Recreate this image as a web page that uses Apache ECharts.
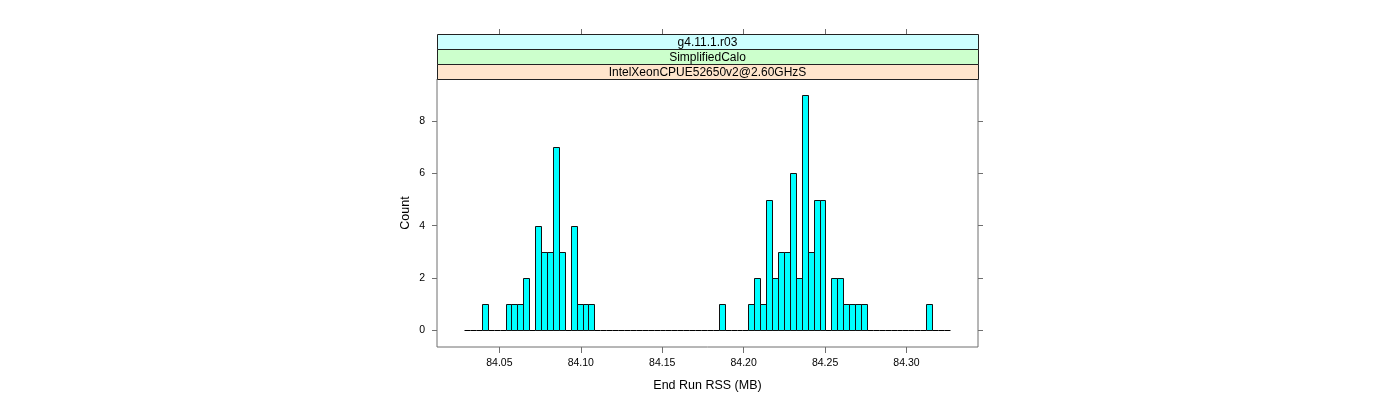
<!DOCTYPE html>
<html>
<head>
<meta charset="utf-8">
<script src="https://cdn.jsdelivr.net/npm/echarts@6/dist/echarts.min.js"></script>
<style>html,body{margin:0;padding:0;background:#fff;}#c{width:1400px;height:400px;}</style>
</head>
<body>
<div id="c"></div>
<script>
// Histogram bins (equal width) and counts
var binStart = 84.0283;
var binWidth = 0.003638;
var counts = [0,0,0,1,0,0,0,1,1,1,2,0,4,3,3,7,3,0,4,1,1,1,
  0,0,0,0,0,0,0,0,0,0,0,0,0,0,0,0,0,0,0,0,0,
  1,0,0,0,0,
  1,2,1,5,2,3,3,6,2,9,3,5,5,0,2,2,1,1,1,1,
  0,0,0,0,0,0,0,0,0,0,
  1,0,0,0];
var xTicks = [84.05, 84.10, 84.15, 84.20, 84.25, 84.30];
var yTicks = [0, 2, 4, 6, 8];
var strips = ['g4.11.1.r03', 'SimplifiedCalo', 'IntelXeonCPUE52650v2@2.60GHzS'];
var stripColors = ['#ccffff', '#ccffcc', '#ffe5cc'];
var xTitle = 'End Run RSS (MB)';
var yTitle = 'Count';

var bins = counts.map(function (c, i) {
  return [binStart + i * binWidth, binStart + (i + 1) * binWidth, c];
});

var G = {left: 437, right: 422, top: 79, bottom: 53};
var W = 1400 - G.left - G.right;
var stripH = 15;
var axisCol = '#6f6f6f';
var font = 'Liberation Sans, Arial, sans-serif';

var graphics = [];
strips.forEach(function (s, i) {
  var y = G.top - stripH * (strips.length - i);
  graphics.push({type: 'rect', shape: {x: G.left + 0.5, y: y + 0.5, width: W, height: stripH},
    style: {fill: stripColors[i], stroke: '#222', lineWidth: 1}, silent: true});
  graphics.push({type: 'text', x: G.left + W / 2, y: y + stripH / 2 + 1,
    style: {text: s, textAlign: 'center', textVerticalAlign: 'middle', font: '12px ' + font, fill: '#000'}, silent: true});
});

var chart = echarts.init(document.getElementById('c'), null, {renderer: 'canvas'});
chart.setOption({
  animation: false,
  backgroundColor: '#fff',
  grid: {left: G.left, right: G.right, top: G.top, bottom: G.bottom, show: true,
    borderColor: axisCol, borderWidth: 1, backgroundColor: 'transparent'},
  xAxis: [{
    type: 'value', min: 84.0117, max: 84.3439, position: 'bottom',
    splitLine: {show: false},
    axisLine: {show: false, onZero: false},
    axisTick: {show: true, length: 6, lineStyle: {color: axisCol}, customValues: xTicks},
    axisLabel: {show: true, margin: 11, color: '#000', fontSize: 10.5, fontFamily: font,
      customValues: xTicks, formatter: function (v) { return v.toFixed(2); }},
    name: xTitle, nameLocation: 'middle', nameGap: 32,
    nameTextStyle: {color: '#000', fontSize: 12.5, fontFamily: font}
  }, {
    type: 'value', min: 84.0117, max: 84.3439, position: 'top', offset: stripH * strips.length,
    splitLine: {show: false}, axisLine: {show: false, onZero: false},
    axisTick: {show: true, length: 5, lineStyle: {color: axisCol}, customValues: xTicks},
    axisLabel: {show: false}
  }],
  yAxis: [{
    type: 'value', min: -0.63, max: 9.6, position: 'left',
    splitLine: {show: false}, axisLine: {show: false, onZero: false},
    axisTick: {show: true, length: 5, lineStyle: {color: axisCol}, customValues: yTicks},
    axisLabel: {show: true, margin: 12, color: '#000', fontSize: 10.5, fontFamily: font, customValues: yTicks},
    name: yTitle, nameLocation: 'middle', nameGap: 25, nameRotate: 90,
    nameTextStyle: {color: '#000', fontSize: 12.5, fontFamily: font}
  }, {
    type: 'value', min: -0.63, max: 9.6, position: 'right',
    splitLine: {show: false}, axisLine: {show: false, onZero: false},
    axisTick: {show: true, length: 5, lineStyle: {color: axisCol}, customValues: yTicks},
    axisLabel: {show: false}
  }],
  series: [{
    type: 'custom',
    xAxisIndex: 0, yAxisIndex: 0,
    data: bins,
    renderItem: function (params, api) {
      var x0 = api.value(0), x1 = api.value(1), c = api.value(2);
      var p0 = api.coord([x0, c]);
      var p1 = api.coord([x1, 0]);
      var xa = Math.round(p0[0]) + 0.5, xb = Math.round(p1[0]) + 0.5;
      var yb = Math.round(p1[1]) + 0.5, yt = Math.round(p0[1]) + 0.5;
      if (c === 0) {
        return {type: 'line', shape: {x1: xa, y1: yb, x2: xb, y2: yb}, style: {stroke: '#000', lineWidth: 1}};
      }
      return {type: 'rect', shape: {x: xa, y: yt, width: xb - xa, height: yb - yt},
        style: {fill: '#00ffff', stroke: '#111', lineWidth: 1}};
    }
  }],
  graphic: graphics
});
</script>
</body>
</html>
